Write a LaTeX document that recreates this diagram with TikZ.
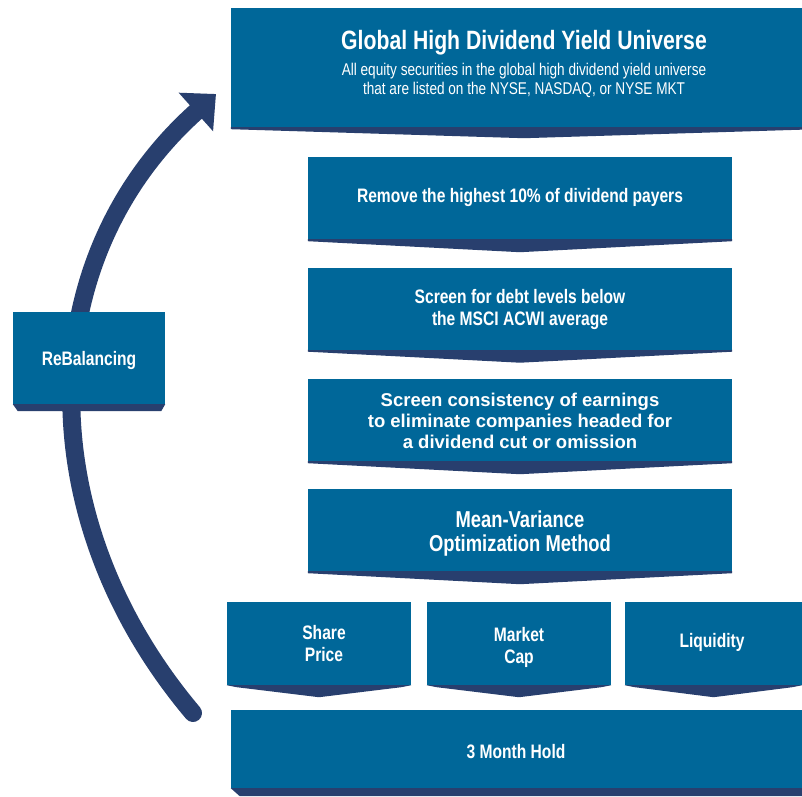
\documentclass[tikz,border=0pt]{standalone}
\usepackage{fontspec}
\setmainfont{Liberation Sans}
\newfontfamily\cnd{Liberation Sans}[FakeStretch=0.80]
\usetikzlibrary{arrows.meta,calc}
\definecolor{boxblue}{RGB}{0,103,153}
\definecolor{navy}{RGB}{40,63,110}
\tikzset{
  bluebox/.style={fill=boxblue, draw=none, inner sep=0pt},
  lbl/.style={text=white, align=center, inner sep=0pt, font=\cnd\bfseries\fontsize{19.5}{22}\selectfont},
  sublbl/.style={text=white, align=center, inner sep=0pt, font=\cnd\fontsize{17}{19}\selectfont},
}
\newcommand\mychev[3]{%
  \fill[navy] (#1.south west) -- (#1.south east) -- ($(#1.south east)+(-#2,2)$)
    -- ($(#1.south)+(0,#3)$) -- ($(#1.south west)+(#2,2)$) -- cycle;}
\begin{document}
\begin{tikzpicture}[x=1pt,y=-1pt]
\clip (0,0) rectangle (802,796);
\fill[white] (0,0) rectangle (802,796);
% curved arrow
\coordinate (arrS) at (193,713);
\coordinate (arrE) at (216,94);
\draw[navy, line width=18, line cap=round, -{Triangle[length=27pt,width=50pt]}]
  (arrS) .. controls (30,520) and (30,260) .. (arrE);
% top box
\node[bluebox, minimum width=586, minimum height=119] (top) at (524,67.5) {};
\mychev{top}{0}{11}
\node[bluebox, minimum width=586, minimum height=119] at (524,67.5) {};
\node[lbl, font=\cnd\bfseries\fontsize{26.5}{30}\selectfont] (ttitle) at (524,43) {Global High Dividend Yield Universe};
\node[sublbl] (tsub) at (524,80) {All equity securities in the global high dividend yield universe\\that are listed on the NYSE, NASDAQ, or NYSE MKT};
% step boxes
\foreach \nm/\cy in {b2/198, b3/308.5, b4/420, b5/530}{
  \node[bluebox, minimum width=424, minimum height=82] (\nm) at (520,\cy) {};
  \mychev{\nm}{0}{13}
  \node[bluebox, minimum width=424, minimum height=82] at (520,\cy) {};
}
\node[lbl] (t2) at (520,197) {Remove the highest 10\% of dividend payers};
\node[lbl] (t3) at (520,309) {Screen for debt levels below\\the MSCI ACWI average};
\node[lbl, font=\bfseries\fontsize{18.5}{21}\selectfont] (t4) at (520,421) {Screen consistency of earnings\\to eliminate companies headed for\\a dividend cut or omission};
\node[lbl, font=\cnd\bfseries\fontsize{23}{24}\selectfont] (t5) at (520,534) {Mean-Variance\\Optimization Method};
% small boxes
\node[bluebox, minimum width=184, minimum height=83] (s1) at (319,643.5) {};
\node[bluebox, minimum width=184, minimum height=83] (s2) at (519,643.5) {};
\node[bluebox, minimum width=177, minimum height=83] (s3) at (713.5,643.5) {};
\mychev{s1}{10}{12}
\mychev{s2}{10}{12}
\mychev{s3}{10}{12}
\node[lbl] (ts1) at (324,644) {Share\\Price};
\node[lbl] (ts2) at (519,647.5) {Market\\Cap};
\node[lbl] (ts3) at (712,642) {Liquidity};
% hold box
\node[bluebox, minimum width=571, minimum height=78] (hold) at (516.5,749) {};
\fill[navy] (hold.south west) -- (hold.south east) -- ($(hold.south east)+(0,8)$) -- ($(hold.south west)+(9,8)$) -- cycle;
\node[lbl] (th) at (516,752) {3 Month Hold};
% rebalancing
\node[bluebox, minimum width=152, minimum height=92] (reb) at (89,358) {};
\fill[navy] (reb.south west) -- (reb.south east) -- ($(reb.south east)+(-4,7)$) -- ($(reb.south west)+(5,7)$) -- cycle;
\node[lbl] (tr) at (89,360) {ReBalancing};
\end{tikzpicture}
\end{document}
